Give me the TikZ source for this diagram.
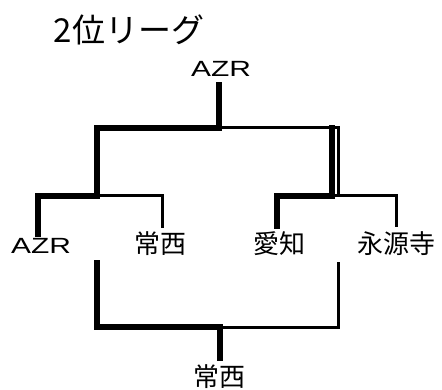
\documentclass[tikz,border=0pt]{standalone}
\usepackage{fontspec}
\newfontfamily\jpfont{Noto Sans CJK JP}
\newfontfamily\latfont{Liberation Sans}
\newcommand{\teamlat}[1]{{\fontsize{22}{22}\latfont\scalebox{1.36}[1]{#1}}}
\begin{document}
\begin{tikzpicture}[x=1pt,y=-1pt,
  lbl/.style={inner sep=0pt, outer sep=0pt, anchor=base, text=black},
  jp/.style={lbl, font=\fontsize{26}{26}\jpfont},
  win/.style={draw=black, line width=6pt, line join=miter, line cap=rect},
  lose/.style={draw=black, line width=3pt, line join=miter, line cap=rect}]
\useasboundingbox (0,0) rectangle (442,390);
% labels
\node[lbl, font=\fontsize{33}{33}\jpfont] (title) at (129,43) {2位リーグ};
\node[lbl] (top) at (221,77) {\teamlat{AZR}};
\node[lbl] (a) at (41,254) {\teamlat{AZR}};
\node[jp] (b) at (160,254) {常西};
\node[jp] (c) at (279,254) {愛知};
\node[jp] (d) at (396,254) {永源寺};
\node[jp] (bot) at (219,386) {常西};
% junction points
\coordinate (atop) at (38,234);
\coordinate (btop) at (162,227);
\coordinate (ctop) at (277,226);
\coordinate (dtop) at (396,226);
\coordinate (s1) at (97,196);
\coordinate (s2) at (332,196);
\coordinate (s2b) at (338,196);
\coordinate (f) at (219,128);
\coordinate (ftop) at (219,85);
\coordinate (g1) at (97,263);
\coordinate (g2) at (338,264);
\coordinate (g) at (220,327);
\coordinate (gbot) at (220,358);
% first semi
\draw[lose] (s1) -| (btop);
\draw[win] (atop) |- (s1);
% second semi
\draw[lose] (s2) -| (dtop);
\draw[win] (ctop) |- (s2);
% final
\draw[lose] (f) -| (s2b);
\draw[win] (s2) -- (s2 |- f);
\draw[win] (s1) |- (f) -- (ftop);
% lower bracket
\draw[lose] (g) -| (g2);
\draw[win] (g1) |- (g) -- (gbot);
\end{tikzpicture}
\end{document}
